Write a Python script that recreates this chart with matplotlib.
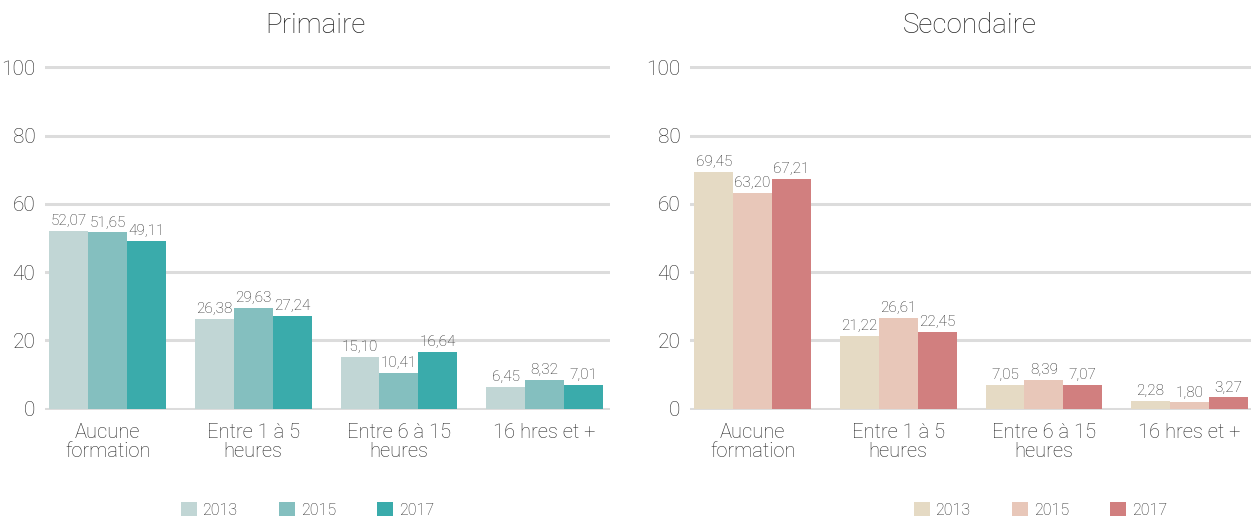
import numpy as np
import matplotlib.pyplot as plt

plt.rcParams['font.family'] = ['Roboto', 'DejaVu Sans']
plt.rcParams['font.weight'] = 'light'

categories = ['Aucune\nformation', 'Entre 1 à 5\nheures', 'Entre 6 à 15\nheures', '16 hres et +']
years = ['2013', '2015', '2017']

primaire = {
    '2013': [52.07, 26.38, 15.10, 6.45],
    '2015': [51.65, 29.63, 10.41, 8.32],
    '2017': [49.11, 27.24, 16.64, 7.01],
}
secondaire = {
    '2013': [69.45, 21.22, 7.05, 2.28],
    '2015': [63.20, 26.61, 8.39, 1.80],
    '2017': [67.21, 22.45, 7.07, 3.27],
}

colors_prim = ['#c1d6d5', '#84bfbf', '#3aabab']
colors_sec = ['#e5dac4', '#e8c7b9', '#d17f7f']

txt = '#262626'
grid = '#dcdcdc'

fig = plt.figure(figsize=(12.51, 5.19), dpi=100)


def draw_panel(ax, data, colors, title, title_x, leg_x):
    x = np.arange(len(categories))
    w = 0.267
    handles = []
    for j, yr in enumerate(years):
        bars = ax.bar(x + (j - 1) * w, data[yr], w, color=colors[j], zorder=2, label=yr)
        ax.bar_label(bars, labels=[f'{v:.2f}'.replace('.', ',') for v in data[yr]],
                     padding=2, fontsize=11, color=txt)
        handles.append(bars)
    ax.set_xlim(-0.43, 3.45)
    ax.set_ylim(-0.4, 100.4)
    ax.set_yticks(range(0, 101, 20))
    ax.set_xticks(x)
    ax.set_xticklabels(categories, fontsize=14.5, color=txt, linespacing=1.05)
    ax.tick_params(axis='both', length=0, labelcolor=txt)
    ax.tick_params(axis='x', pad=9)
    ax.tick_params(axis='y', pad=7, labelsize=15)
    ax.grid(axis='y', color=grid, lw=2.2, zorder=0)
    ax.set_axisbelow(True)
    for s in ax.spines.values():
        s.set_visible(False)
    ax.set_title(title, fontsize=20, color=txt, x=title_x, pad=24, fontweight='light')
    fig.legend(handles=handles, labels=years, loc='upper left',
               bbox_to_anchor=(leg_x / 1251, 1 - 502 / 519), ncol=3, frameon=False,
               fontsize=11.5, labelcolor=txt, borderpad=0, borderaxespad=0,
               handlelength=1.0, handleheight=1.0, handletextpad=0.35,
               columnspacing=2.6)


bottom = 1 - 410 / 519
height = 344 / 519
ax1 = fig.add_axes([45 / 1251, bottom, 565 / 1251, height])
ax2 = fig.add_axes([690 / 1251, bottom, 565 / 1251, height])

draw_panel(ax1, primaire, colors_prim, 'Primaire', 0.478, 181)
draw_panel(ax2, secondaire, colors_sec, 'Secondaire', 0.496, 914)

fig.savefig('out.png', dpi=100)
